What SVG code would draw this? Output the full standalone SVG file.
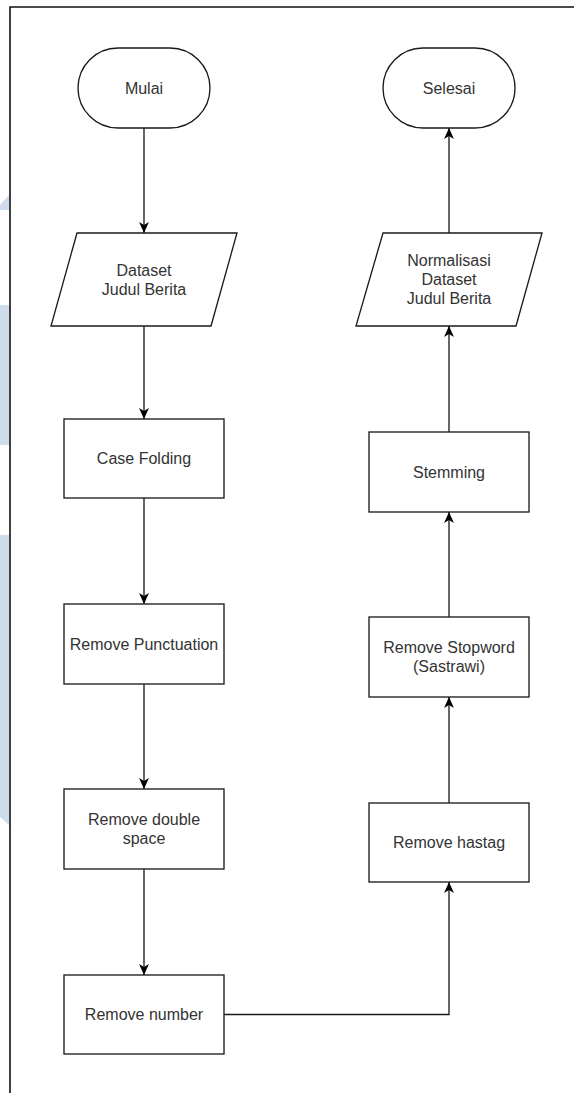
<svg xmlns="http://www.w3.org/2000/svg" width="574" height="1093" viewBox="0 0 574 1093">
<style>
.shape{fill:#ffffff;stroke:#1a1a1a;stroke-width:1.33}
.lbl{font-family:"Liberation Sans",Arial,sans-serif;font-size:16px;fill:#333333;text-anchor:middle}
.conn{fill:none;stroke:#1a1a1a;stroke-width:1.33}
.wm{fill:#cfdcec;stroke:none}
.frame{fill:none;stroke:#111111;stroke-width:1.6}
</style>
<defs>
<marker id="arr" markerUnits="userSpaceOnUse" markerWidth="11" markerHeight="11" viewBox="0 0 10 10" refX="10" refY="5" orient="auto">
<path d="M0,0.5 L10,5 L0,9.5 L2.7,5 Z" fill="#000000"/>
</marker>
</defs>
<rect x="0" y="0" width="574" height="1093" fill="#ffffff"/>
<g id="watermark">
<polygon class="wm" points="0,205 9,195 9,210 0,210"/>
<rect class="wm" x="0" y="305" width="9" height="140"/>
<polygon class="wm" points="0,535 9,535 9,825 0,817"/>
</g>
<g id="frame">
<path class="frame" d="M10,1093 L10,7 L574,7"/>
</g>
<g id="connectors">
<path class="conn" d="M144,128 L144,233" marker-end="url(#arr)"/>
<path class="conn" d="M144,326 L144,419" marker-end="url(#arr)"/>
<path class="conn" d="M144,498 L144,604" marker-end="url(#arr)"/>
<path class="conn" d="M144,684 L144,789" marker-end="url(#arr)"/>
<path class="conn" d="M144,869 L144,975" marker-end="url(#arr)"/>
<path class="conn" d="M224,1014.5 L449,1014.5 L449,882" marker-end="url(#arr)"/>
<path class="conn" d="M449,803 L449,697" marker-end="url(#arr)"/>
<path class="conn" d="M449,617 L449,512" marker-end="url(#arr)"/>
<path class="conn" d="M449,432 L449,326" marker-end="url(#arr)"/>
<path class="conn" d="M449,233 L449,128" marker-end="url(#arr)"/>
</g>
<g id="mulai">
<rect class="shape" x="78" y="48" width="132" height="80" rx="40" ry="40"/>
<text class="lbl" x="144" y="93.6">Mulai</text>
</g>
<g id="dataset">
<polygon class="shape" points="77,233 237,233 211,326 51,326"/>
<text class="lbl" x="144" y="275.5">Dataset</text>
<text class="lbl" x="144" y="294.7">Judul Berita</text>
</g>
<g id="case-folding">
<rect class="shape" x="64" y="419" width="160" height="79"/>
<text class="lbl" x="144" y="464.1">Case Folding</text>
</g>
<g id="remove-punctuation">
<rect class="shape" x="64" y="604" width="160" height="80"/>
<text class="lbl" x="144" y="649.6">Remove Punctuation</text>
</g>
<g id="remove-double-space">
<rect class="shape" x="64" y="789" width="160" height="80"/>
<text class="lbl" x="144" y="825">Remove double</text>
<text class="lbl" x="144" y="844.2">space</text>
</g>
<g id="remove-number">
<rect class="shape" x="64" y="975" width="160" height="79"/>
<text class="lbl" x="144" y="1020.1">Remove number</text>
</g>
<g id="remove-hastag">
<rect class="shape" x="369" y="803" width="160" height="79"/>
<text class="lbl" x="449" y="848.1">Remove hastag</text>
</g>
<g id="remove-stopword">
<rect class="shape" x="369" y="617" width="160" height="80"/>
<text class="lbl" x="449" y="653">Remove Stopword</text>
<text class="lbl" x="449" y="672.2">(Sastrawi)</text>
</g>
<g id="stemming">
<rect class="shape" x="369" y="432" width="160" height="80"/>
<text class="lbl" x="449" y="477.6">Stemming</text>
</g>
<g id="normalisasi">
<polygon class="shape" points="383,233 542,233 516,326 356,326"/>
<text class="lbl" x="449" y="265.9">Normalisasi</text>
<text class="lbl" x="449" y="285.1">Dataset</text>
<text class="lbl" x="449" y="304.3">Judul Berita</text>
</g>
<g id="selesai">
<rect class="shape" x="383" y="48" width="132" height="80" rx="40" ry="40"/>
<text class="lbl" x="449" y="93.6">Selesai</text>
</g>
</svg>
